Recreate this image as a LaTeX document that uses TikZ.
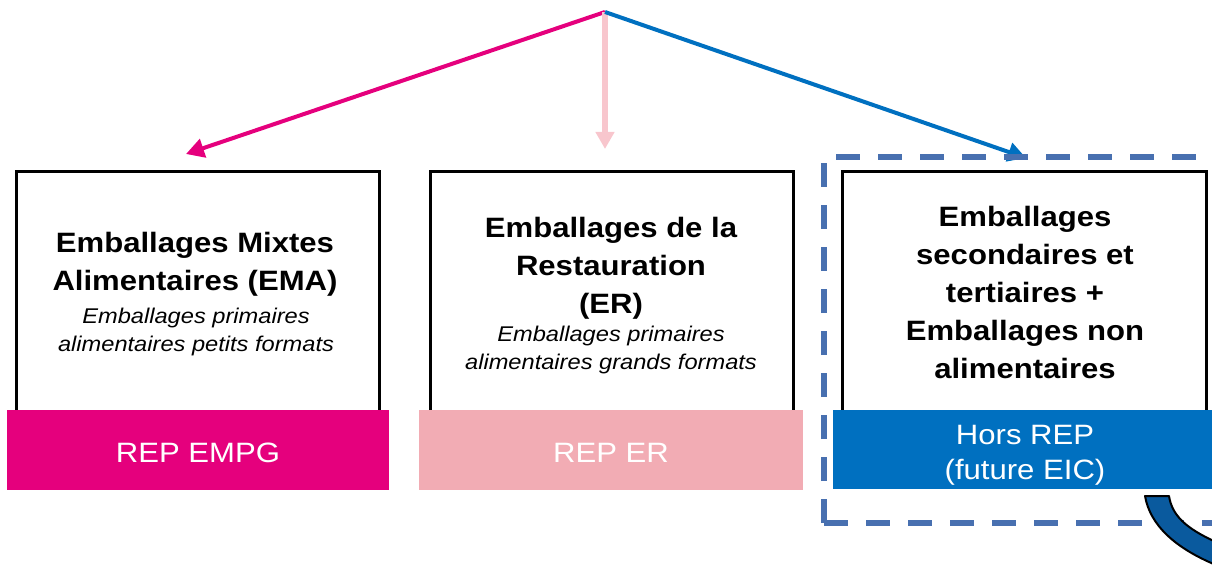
\documentclass[tikz,border=0pt]{standalone}
\usepackage{fontspec}
\setmainfont{Liberation Sans}[FakeStretch=1.11]
\usetikzlibrary{arrows.meta}
\definecolor{cmag}{HTML}{E5007D}
\definecolor{cpinkbar}{HTML}{F2ACB4}
\definecolor{cpinkarrow}{HTML}{F8C6CD}
\definecolor{cblue}{HTML}{0070C0}
\definecolor{cdash}{HTML}{4870B0}
\definecolor{ccurve}{HTML}{0A5A9E}
\tikzset{
  whitebox/.style={draw=black, line width=2.6pt, fill=white, inner sep=0pt},
  barbox/.style={draw=none, inner sep=0pt, minimum height=80pt},
  titletext/.style={inner sep=0pt, anchor=north, align=center, font=\fontsize{28}{38}\selectfont\bfseries},
  subtext/.style={inner sep=0pt, anchor=north, align=center, font=\fontsize{21.3}{28}\selectfont\itshape},
  bartext/.style={inner sep=0pt, anchor=north, align=center, text=white, font=\fontsize{28}{35}\selectfont},
  conn/.style={line width=4pt},
  dashbox/.style={draw=cdash, line width=5.5pt, dash pattern=on 24pt off 18pt},
  curvearrow/.style={draw=black, line width=2pt, fill=ccurve, line join=round}
}
\begin{document}
\begin{tikzpicture}[x=1pt,y=-1pt]
\useasboundingbox (0,0) rectangle (1212,585);
\clip (0,0) rectangle (1212,585);

% connectors
\coordinate (top) at (605,12);
\coordinate (tipL) at (186,154);
\coordinate (tipM) at (605,149);
\coordinate (tipR) at (1026,158);
\draw[conn, draw=cmag, -{Triangle[length=18pt,width=19pt]}] (top) -- (tipL);
\draw[conn, draw=cpinkarrow, line width=6pt, -{Triangle[length=17pt,width=18pt]}] (top) -- (tipM);
\draw[conn, draw=cblue, -{Triangle[length=18pt,width=19pt]}] (top) -- (tipR);

% dashed frame
\draw[dashbox] (824,523) -- (824,157) -- (1240,157);
\draw[dashbox] (824,523) -- (1240,523);

% boxes
\node[whitebox, minimum width=363pt, minimum height=241pt] (box1) at (198,292) {};
\node[whitebox, minimum width=363pt, minimum height=241pt] (box2) at (612,292) {};
\node[whitebox, minimum width=364pt, minimum height=241pt] (box3) at (1024.5,292) {};

% bars
\node[barbox, fill=cmag, minimum width=382pt] (bar1) at (198,450) {};
\node[barbox, fill=cpinkbar, minimum width=384pt] (bar2) at (611,450) {};
\node[barbox, fill=cblue, minimum width=384pt, minimum height=79pt] (bar3) at (1025,449.5) {};

% texts
\node[titletext] (t1) at (195,232) {Emballages Mixtes\\Alimentaires (EMA)};
\node[subtext] (s1) at (196,307.7) {Emballages primaires\\alimentaires petits formats};
\node[titletext] (t2) at (611,217) {Emballages de la\\Restauration\\(ER)};
\node[subtext] (s2) at (611,325.7) {Emballages primaires\\alimentaires grands formats};
\node[titletext] (t3) at (1025,206) {Emballages\\secondaires et\\tertiaires +\\Emballages non\\alimentaires};
\node[bartext] (r1) at (198,443) {REP EMPG};
\node[bartext] (r2) at (611,443) {REP ER};
\node[bartext] (r3) at (1025,425) {Hors REP\\(future EIC)};

% curved arrow (cut off)
\draw[curvearrow] (1145,496) -- (1169,496)
  .. controls (1172,515) and (1185,528) .. (1216,542)
  -- (1216,565)
  .. controls (1175,548) and (1150,525) .. (1145,496) -- cycle;
\end{tikzpicture}
\end{document}
